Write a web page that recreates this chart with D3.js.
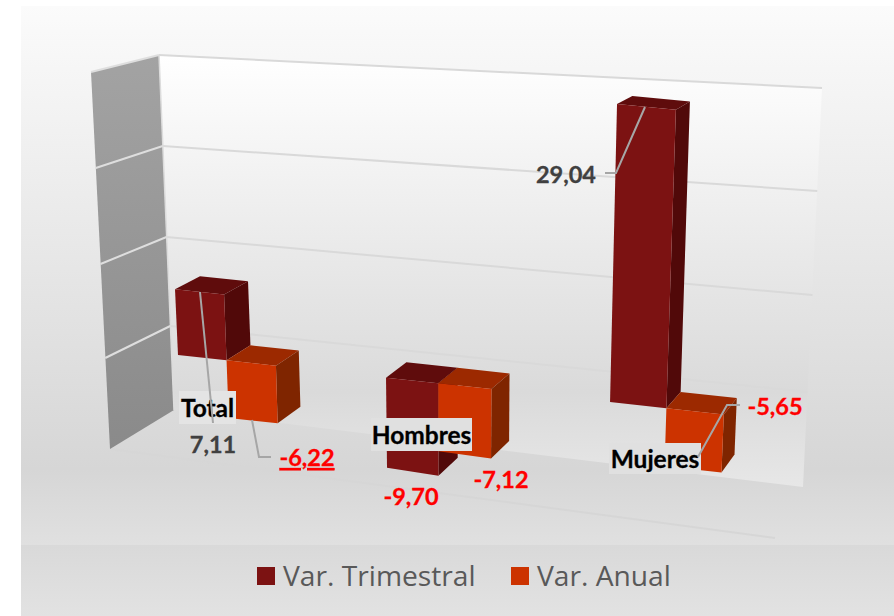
<!DOCTYPE html>
<html><head><meta charset="utf-8">
<script src="https://cdn.jsdelivr.net/npm/d3@7"></script>
<style>html,body{margin:0;padding:0;background:#fff}svg{display:block}</style>
</head><body><svg id="c" width="894" height="616"></svg>
<script>
// ---- data ----
const categories = ["Total", "Hombres", "Mujeres"];
const seriesNames = ["Var. Trimestral", "Var. Anual"];
const varTrimestral = [7.11, -9.70, 29.04];
const varAnual = [-6.22, -7.12, -5.65];
const gridValues = [-10, 0, 10, 20, 30];
const seriesValues = [varTrimestral, varAnual];

// ---- styles ----
const faceColors = [
  {front:"#7c1212", top:"#5f0c0c", side:"#510909"},
  {front:"#cc3300", top:"#9c2900", side:"#7f2500"}
];
const legendColors = ["#7c1212", "#cc3300"];

// ---- projection calibrated on the picture ----
const band = d3.scaleBand().domain(categories).range([-.26, 2.74]).paddingInner(.52).paddingOuter(.26);
const inner = d3.scaleBand().domain([0,1]).range([0, band.bandwidth()]);
const persp = u => 200.6*u/(1-.0357*u);
const zeroX = d3.scaleLinear().domain([0,432]).range([178,610]);
const zeroY = d3.scaleLinear().domain([178,610]).range([355,402]);
const unit = d3.scaleLinear().domain([178,386,610,730]).range([9.25,9.3,10.26,10.3]);
const lean = d3.scaleLinear().domain([178,610]).range([-.42,.24]);
const depthX = d3.scaleLinear().domain([175,723]).range([25,13]);
const depthY = d3.scaleLinear().domain([104,474]).range([8,18]);

function front(u, v){
  const x0 = zeroX(persp(u));
  return [x0 + lean(x0)*v, zeroY(x0) - unit(x0)*v];
}
function deep(p){ return [p[0]+depthX(p[0]), p[1]-depthY(p[1])]; }

// walls
const wallLeftY  = d3.scaleLinear().domain(gridValues).range([410,326,237,146,55]);
const wallRightY = d3.scaleLinear().domain(gridValues).range([487,392,295,191,88]);
const wallLeftX  = d3.scaleLinear().domain([-10,30]).range([174,159]);
const wallRightX = d3.scaleLinear().domain([-10,30]).range([803,822]);
const sideY = d3.scaleLinear().domain(gridValues).range([449,358,264,168,72]);
const sideX = d3.scaleLinear().domain([-10,30]).range([110,91]);

const svg = d3.select("#c");
const defs = svg.append("defs");
function grad(id, stops){
  const g = defs.append("linearGradient").attr("id",id).attr("x1",0).attr("y1",0).attr("x2",0).attr("y2",1);
  stops.forEach(s=>g.append("stop").attr("offset",s[0]).attr("stop-color",s[1]));
}
grad("bg",[[0,"#fbfbfb"],[.86,"#d6d6d6"],[1,"#e0e0e0"]]);
grad("lg",[[0,"#d9d9d9"],[1,"#e2e2e2"]]);
grad("wall",[[0,"#ffffff"],[.78,"#dadada"],[1,"#e7e7e7"]]);
grad("side",[[0,"#a3a3a3"],[1,"#8a8a8a"]]);

svg.append("rect").attr("x",21).attr("y",6).attr("width",873).attr("height",539).attr("fill","url(#bg)");
svg.append("rect").attr("x",21).attr("y",545).attr("width",873).attr("height",71).attr("fill","url(#lg)");

const line = d3.line();
const poly = pts => line(pts)+"Z";
const vMin = d3.min(gridValues), vMax = d3.max(gridValues);

// floor front edge
svg.append("line").attr("x1",sideX(vMin)).attr("y1",sideY(vMin)).attr("x2",775).attr("y2",538).attr("stroke","#d6d6d6").attr("stroke-width",2);
// back wall
svg.append("path").attr("d",poly([[wallLeftX(vMax),wallLeftY(vMax)],[wallRightX(vMax),wallRightY(vMax)],[wallRightX(vMin),wallRightY(vMin)],[wallLeftX(vMin),wallLeftY(vMin)]])).attr("fill","url(#wall)");
// side wall
svg.append("path").attr("d",poly([[sideX(vMax),sideY(vMax)],[wallLeftX(vMax),wallLeftY(vMax)],[wallLeftX(vMin),wallLeftY(vMin)],[sideX(vMin),sideY(vMin)]])).attr("fill","url(#side)");
// grid
gridValues.filter(v=>v>vMin).forEach(v=>{
  svg.append("path").attr("fill","none").attr("stroke","#d9d9d9").attr("stroke-width",2)
    .attr("d",line([[wallLeftX(v),wallLeftY(v)],[wallRightX(v),wallRightY(v)]]));
  svg.append("path").attr("fill","none").attr("stroke","#dedede").attr("stroke-width",2)
    .attr("d",line([[sideX(v),sideY(v)],[wallLeftX(v),wallLeftY(v)]]));
});
svg.append("path").attr("fill","none").attr("stroke","#dcdcdc").attr("stroke-width",1.5)
  .attr("d",line([[wallLeftX(vMax),wallLeftY(vMax)],[wallLeftX(vMin),wallLeftY(vMin)]]));

// bars
categories.forEach((c,i)=>{
  seriesValues.forEach((vals,s)=>{
    const v = vals[i];
    const u0 = band(c)+inner(s), u1 = u0+inner.bandwidth();
    const hi = Math.max(v,0), lo = Math.min(v,0);
    const tl = front(u0,hi), tr = front(u1,hi), bl = front(u0,lo), br = front(u1,lo);
    const col = faceColors[s];
    svg.append("path").attr("d",poly([tl,tr,deep(tr),deep(tl)])).attr("fill",col.top);
    svg.append("path").attr("d",poly([tr,deep(tr),deep(br),br])).attr("fill",col.side);
    svg.append("path").attr("d",poly([tl,tr,br,bl])).attr("fill",col.front);
  });
});

// category labels
const catBoxes = [[179,391,57,33],[371,418,101,33],[609,443,92,31]];
const catFills = ["#e4e4e4","#e0e0e0","#e0e0e0"];
categories.forEach((c,i)=>{
  const b = catBoxes[i];
  svg.append("rect").attr("x",b[0]).attr("y",b[1]).attr("width",b[2]).attr("height",b[3]).attr("fill",catFills[i]);
  svg.append("text").attr("x",b[0]+b[2]/2).attr("y",b[1]+b[3]/2+9).attr("text-anchor","middle")
    .attr("font-family","Lato").attr("font-weight",700).attr("font-size",24.5).attr("fill","#000")
    .attr("stroke","#000").attr("stroke-width",.3).text(c);
});

// leaders
const leaders = [
  [[200,292],[213,423]],
  [[252,420],[259,457],[271,457]],
  [[645,107],[616,173],[605,173]],
  [[698,457],[727,405],[740,405]]
];
leaders.forEach(l=>svg.append("path").attr("d",line(l)).attr("fill","none").attr("stroke","#a6a6a6").attr("stroke-width",2));

// value labels
const fmt = v => v.toFixed(2).replace(".",",");
const labelPos = [
  [[213,453],[307,466]],
  [[411,505],[501,488]],
  [[566,183],[775,415]]
];
categories.forEach((c,i)=>{
  seriesValues.forEach((vals,s)=>{
    const v = vals[i], p = labelPos[i][s], col = v<0 ? "#ff0000" : "#404040";
    const t = svg.append("text").attr("x",p[0]).attr("y",p[1]).attr("text-anchor","middle")
      .attr("font-family","Lato").attr("font-weight",700).attr("font-size",23.5)
      .attr("fill",col).attr("stroke",col).attr("stroke-width",.3).text(fmt(v));
    if(c==="Total" && s===1) t.attr("text-decoration","underline");
  });
});

// legend
const legendX = [257,511], legendTextX = [283,537];
seriesNames.forEach((n,i)=>{
  svg.append("rect").attr("x",legendX[i]).attr("y",567).attr("width",18).attr("height",18).attr("fill",legendColors[i]);
  svg.append("text").attr("x",legendTextX[i]).attr("y",586).attr("font-family","Open Sans").attr("font-size",28.2).attr("fill","#595959").text(n);
});
</script></body></html>
